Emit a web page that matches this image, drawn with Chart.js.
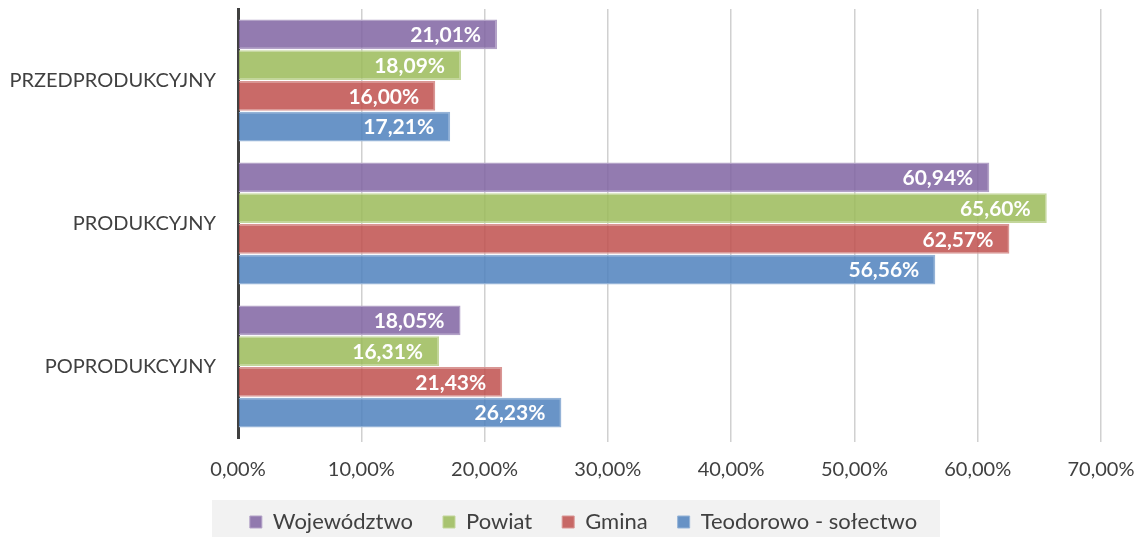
<!DOCTYPE html>
<html>
<head>
<meta charset="utf-8">
<script src="https://cdn.jsdelivr.net/npm/chart.js@4.4.1/dist/chart.umd.min.js"></script>
<style>
html,body{margin:0;padding:0;background:#fff;}
#wrap{width:1140px;height:537px;position:relative;}
</style>
</head>
<body>
<div id="wrap"><canvas id="c" width="1140" height="537"></canvas></div>
<script>
const categories = ['PRZEDPRODUKCYJNY', 'PRODUKCYJNY', 'POPRODUKCYJNY'];
const seriesNames = ['Województwo', 'Powiat', 'Gmina', 'Teodorowo - sołectwo'];
const wojewodztwo = [21.01, 60.94, 18.05];
const powiat = [18.09, 65.60, 16.31];
const gmina = [16.00, 62.57, 21.43];
const teodorowo = [17.21, 56.56, 26.23];
const xTicks = [0, 10, 20, 30, 40, 50, 60, 70];

const fill = ['rgba(128,100,162,0.85)', 'rgba(155,187,89,0.85)', 'rgba(192,80,77,0.85)', 'rgba(79,129,189,0.85)'];
const border = ['#b3a2c7', '#c3d69b', '#d99694', '#95b3d7'];
const fmt = v => v.toFixed(2).replace('.', ',') + '%';

const valueLabels = {
  id: 'valueLabels',
  afterDatasetsDraw(chart) {
    const ctx = chart.ctx;
    ctx.save();
    ctx.font = 'bold 21px Lato';
    ctx.fillStyle = '#ffffff';
    ctx.textAlign = 'right';
    ctx.textBaseline = 'middle';
    chart.data.datasets.forEach((ds, i) => {
      const meta = chart.getDatasetMeta(i);
      meta.data.forEach((el, j) => {
        ctx.fillText(fmt(ds.data[j]), el.x - 16, el.y + 1);
      });
    });
    ctx.restore();
  }
};

const legendShift = 33;
const legendBg = {
  id: 'legendBg',
  afterLayout(chart) {
    const lg = chart.legend;
    if (lg) { lg.left += legendShift; lg.right += legendShift; }
  },
  beforeDraw(chart) {
    const ctx = chart.ctx;
    ctx.save();
    ctx.fillStyle = '#f2f2f2';
    ctx.fillRect(212, 500, 728, 37);
    ctx.restore();
  }
};

new Chart(document.getElementById('c'), {
  type: 'bar',
  data: {
    labels: categories,
    datasets: [wojewodztwo, powiat, gmina, teodorowo].map((d, i) => ({
      label: seriesNames[i],
      data: d,
      backgroundColor: fill[i],
      borderColor: border[i],
      borderWidth: 1.5,
      categoryPercentage: 0.86,
      barPercentage: 0.97
    }))
  },
  options: {
    indexAxis: 'y',
    responsive: false,
    animation: false,
    layout: { padding: { top: 9, right: 39, left: 0, bottom: -6 } },
    scales: {
      x: {
        min: 0, max: 70,
        afterBuildTicks(scale) { scale.ticks = xTicks.map(v => ({ value: v })); },
        ticks: {
          callback: v => fmt(v),
          color: '#404040',
          font: { family: 'Lato', size: 20 },
          padding: 16
        },
        grid: {
          color: ctx => ctx.tick && ctx.tick.value === 0 ? 'rgba(0,0,0,0)' : '#d0d0d0',
          lineWidth: 1.5,
          drawTicks: true,
          tickLength: 4
        },
        border: { display: false },
        afterFit(scale) {
          scale.height = 43;
          scale.paddingLeft = 0; scale.paddingRight = 0;
        }
      },
      y: {
        ticks: {
          color: '#404040',
          font: { family: 'Lato', size: 20 },
          padding: 22
        },
        grid: { display: false, drawTicks: false },
        border: { display: true, color: '#404040', width: 3 },
        afterFit(scale) {
          scale.width = 238;
          scale.paddingTop = 0; scale.paddingBottom = 0;
        }
      }
    },
    plugins: {
      legend: {
        position: 'bottom',
        labels: {
          color: '#404040',
          font: { family: 'Lato', size: 22 },
          boxWidth: 12,
          boxHeight: 12,
          padding: 30,
          generateLabels(chart) {
            return chart.data.datasets.map((ds, i) => ({
              text: ds.label,
              fillStyle: fill[i],
              strokeStyle: border[i],
              lineWidth: 1,
              fontColor: '#404040',
              datasetIndex: i,
              hidden: false
            }));
          }
        }
      },
      tooltip: { enabled: false }
    }
  },
  plugins: [legendBg, valueLabels]
});
</script>
</body>
</html>
